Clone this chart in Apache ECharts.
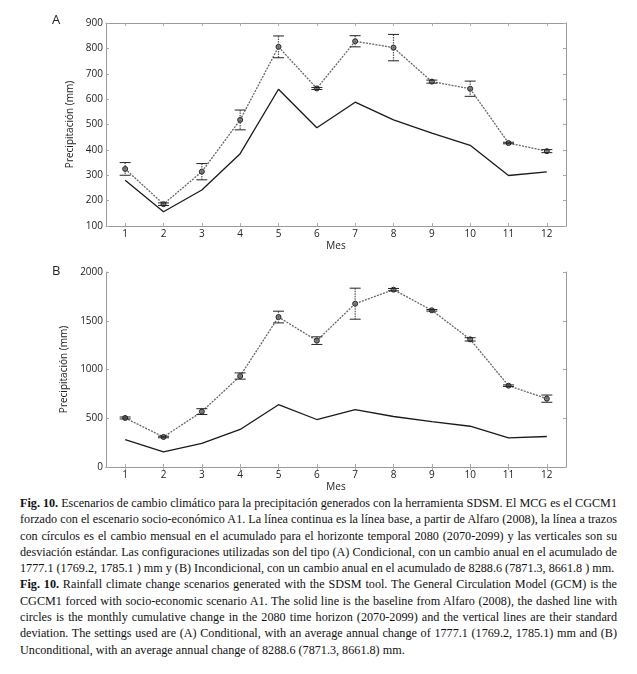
<!DOCTYPE html>
<html><head><meta charset="utf-8">
<script src="https://cdn.jsdelivr.net/npm/echarts@6/dist/echarts.min.js"></script>
<style>
html,body{margin:0;padding:0;background:#fff;}
#chart{position:absolute;left:0;top:0;width:637px;height:495px;}
#cap{position:absolute;left:20px;top:495px;width:597px;font-family:'Liberation Serif','Times New Roman',serif;font-size:12px;color:#111;line-height:16.3px;}
#cap div{white-space:nowrap;}
#cap b{font-weight:bold;font-family:'Liberation Serif','Times New Roman',serif;}
</style></head>
<body>
<div id="chart"></div>
<div id="cap"></div>
<script>
// ---- data ----
const months = ['1','2','3','4','5','6','7','8','9','10','11','12'];
const baseline = [280,156,242,385,639,487,588,518,466,418,299,313];
const scenA = [325,186,314,518,806,642,828,803,669,641,427,395];
const sdA   = [25,5,32,39,43,4,22,52,6,30,3,6];
const scenB = [503,308,568,933,1538,1296,1675,1819,1607,1309,834,701];
const sdB   = [10,8,30,32,60,39,159,12,8,17,8,37];
const yTitle = 'Precipitación (mm)';
const xTitle = 'Mes';
const capLines = [
 ['<b>Fig. 10.</b> Escenarios de cambio climático para la precipitación generados con la herramienta SDSM. El MCG es el CGCM1', false],
 ['forzado con el escenario socio-económico A1. La línea continua es la línea base, a partir de Alfaro (2008), la línea a trazos', false],
 ['con círculos es el cambio mensual en el acumulado para el horizonte temporal 2080 (2070-2099) y las verticales son su', false],
 ['desviación estándar. Las configuraciones utilizadas son del tipo (A) Condicional, con un cambio anual en el acumulado de', false],
 ['1777.1 (1769.2, 1785.1 ) mm y (B) Incondicional, con un cambio anual en el acumulado de 8288.6 (7871.3, 8661.8 ) mm.', true],
 ['<b>Fig. 10.</b> Rainfall climate change scenarios generated with the SDSM tool. The General Circulation Model (GCM) is the', false],
 ['CGCM1 forced with socio-economic scenario A1. The solid line is the baseline from Alfaro (2008), the dashed line with', false],
 ['circles is the monthly cumulative change in the 2080 time horizon (2070-2099) and the vertical lines are their standard', false],
 ['deviation. The settings used are (A) Conditional, with an average annual change of 1777.1 (1769.2, 1785.1) mm and (B)', false],
 ['Unconditional, with an average annual change of 8288.6 (7871.3, 8661.8) mm.', true]
];

// ---- caption ----
const cap = document.getElementById('cap');
const CAPW = 597;
const probe = document.createElement('span');
probe.style.whiteSpace='nowrap';
probe.innerHTML = capLines[9][0];
cap.appendChild(probe);
let fs = 12 * 385 / probe.getBoundingClientRect().width;
cap.removeChild(probe);
cap.style.fontSize = fs.toFixed(2)+'px';
capLines.forEach(([html,last])=>{
  const d = document.createElement('div');
  const s = document.createElement('span');
  s.innerHTML = html;
  d.appendChild(s);
  cap.appendChild(d);
  if(!last){
    const w = s.getBoundingClientRect().width;
    const n = (s.textContent.match(/ /g)||[]).length;
    s.style.wordSpacing = ((CAPW - w)/n).toFixed(3)+'px';
  }
});

// ---- chart ----
const FONT = 'Open Sans';
const frame = '#9a9a9a';
function axesFor(gi, ymin, ymax, yint, nameGap){
  const common = {gridIndex:gi, axisLine:{show:true, lineStyle:{color:frame,width:1}},
    axisTick:{show:true, inside:true, length:3, lineStyle:{color:'#aaa'}}, splitLine:{show:false}};
  const xs = [
    Object.assign({}, common, {type:'category', data:months, position:'bottom', boundaryGap:true,
      axisTick:{show:true, inside:true, length:3, alignWithLabel:true, lineStyle:{color:'#aaa'}},
      axisLabel:{margin:3, fontFamily:FONT, fontSize:10, color:'#222'},
      name:xTitle, nameLocation:'middle', nameGap:15, nameTextStyle:{fontFamily:FONT, fontSize:10, color:'#222'}}),
    Object.assign({}, common, {type:'category', data:months, position:'top', boundaryGap:true,
      axisTick:{show:true, inside:true, length:3, alignWithLabel:true, lineStyle:{color:'#aaa'}},
      axisLabel:{show:false}})
  ];
  const ys = [
    Object.assign({}, common, {type:'value', min:ymin, max:ymax, interval:yint, position:'left',
      axisLabel:{margin:3, fontFamily:FONT, fontSize:10, color:'#222', formatter:(v)=>String(v)},
      name:yTitle, nameLocation:'middle', nameGap:nameGap, nameTextStyle:{fontFamily:FONT, fontSize:10, color:'#222'}}),
    Object.assign({}, common, {type:'value', min:ymin, max:ymax, interval:yint, position:'right', axisLabel:{show:false}})
  ];
  return {xs, ys};
}
const a = axesFor(0, 100, 900, 100, 27);
const b = axesFor(1, 0, 2000, 500, 31);

function errRender(params, api){
  const x = api.value(0), v = api.value(1), s = api.value(2);
  const t = api.coord([x, v+s]), bt = api.coord([x, v-s]);
  const hw = 5.5;
  return {type:'group', children:[
    {type:'line', shape:{x1:t[0],y1:t[1],x2:bt[0],y2:bt[1]}, style:{stroke:'#555',lineWidth:1.2,lineDash:[1.5,1]}},
    {type:'line', shape:{x1:t[0]-hw,y1:t[1],x2:t[0]+hw,y2:t[1]}, style:{stroke:'#222',lineWidth:1}},
    {type:'line', shape:{x1:bt[0]-hw,y1:bt[1],x2:bt[0]+hw,y2:bt[1]}, style:{stroke:'#222',lineWidth:1}}
  ]};
}
function seriesFor(xi, yi, scen, sd){
  return [
    {type:'line', xAxisIndex:xi, yAxisIndex:yi, data:baseline, symbol:'none', silent:true,
      lineStyle:{color:'#1a1a1a', width:1.3}, z:2},
    {type:'line', xAxisIndex:xi, yAxisIndex:yi, data:scen, symbol:'circle', symbolSize:5, silent:true,
      lineStyle:{color:'#666', width:1.3, type:[2,1.2]},
      itemStyle:{color:'#888', borderColor:'#222', borderWidth:1}, z:3},
    {type:'custom', xAxisIndex:xi, yAxisIndex:yi, renderItem:errRender, silent:true,
      data:scen.map((v,i)=>[i, v, sd[i]]), z:4}
  ];
}

const chart = echarts.init(document.getElementById('chart'), null, {renderer:'canvas'});
chart.setOption({
  animation:false,
  backgroundColor:'#fff',
  grid:[
    {left:106, top:23, width:460, height:203},
    {left:106, top:272, width:460, height:195}
  ],
  xAxis:[a.xs[0], a.xs[1], b.xs[0], b.xs[1]],
  yAxis:[a.ys[0], a.ys[1], b.ys[0], b.ys[1]],
  graphic:[
    {type:'text', left:52, top:14, style:{text:'A', fontFamily:FONT, fontSize:13, fill:'#222'}},
    {type:'text', left:52, top:265, style:{text:'B', fontFamily:FONT, fontSize:13, fill:'#222'}}
  ],
  series:[].concat(seriesFor(0,0,scenA,sdA), seriesFor(2,2,scenB,sdB))
});
</script>
</body></html>
